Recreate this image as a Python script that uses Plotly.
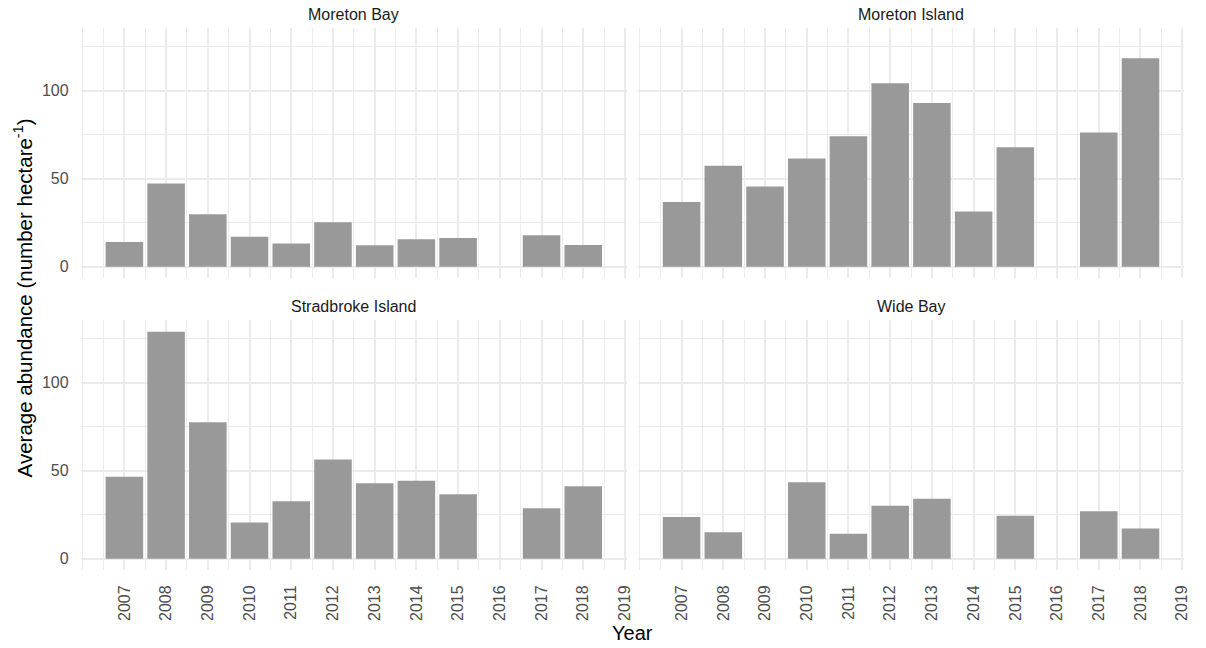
import plotly.graph_objects as go

# Survey years and average abundance per region (number per hectare)
years = [2007, 2008, 2009, 2010, 2011, 2012, 2013, 2014, 2015, 2016, 2017, 2018]
tick_years = list(range(2007, 2020))

moreton_bay = [14.0, 47.2, 29.8, 17.0, 13.1, 25.2, 12.2, 15.6, 16.3, None, 17.8, 12.3]
moreton_island = [36.8, 57.4, 45.5, 61.4, 74.1, 104.2, 93.0, 31.3, 67.8, None, 76.3, 118.4]
stradbroke_island = [46.6, 129.0, 77.5, 20.6, 32.6, 56.3, 42.8, 44.3, 36.6, None, 28.6, 41.1]
wide_bay = [23.7, 15.0, None, 43.4, 14.2, 30.1, 34.1, None, 24.4, None, 26.9, 17.2]

regions = ["Moreton Bay", "Moreton Island", "Stradbroke Island", "Wide Bay"]
series = [moreton_bay, moreton_island, stradbroke_island, wide_bay]

W, H = 1206, 648
BAR_COLOR = "#999999"
GRID = "#EBEBEB"
FONT = "Liberation Sans, Arial, sans-serif"

# panel placement in pixels: (left, right, top, bottom)
col_px = [(81.2, 630.0), (641.2, 1190.0)]
row_px = [(28.3, 278.0), (320.3, 570.0)]

# continuous scale limits with 5% expansion, bars of width 0.9
bar_w = 0.9
x_lo, x_hi = years[0] - bar_w / 2, years[-1] + bar_w / 2
x_pad = (x_hi - x_lo) * 0.05
x_range = [x_lo - x_pad, x_hi + x_pad]
y_max = max(v for s in series for v in s if v is not None)
y_range = [-0.05 * y_max, 1.05 * y_max]

fig = go.Figure()
layout = {}
for i, (name, vals) in enumerate(zip(regions, series)):
    r, c = divmod(i, 2)
    n = "" if i == 0 else str(i + 1)
    fig.add_trace(go.Bar(
        x=[y for y, v in zip(years, vals) if v is not None],
        y=[v for v in vals if v is not None],
        width=bar_w,
        marker=dict(color=BAR_COLOR, line=dict(width=0)),
        xaxis="x" + n, yaxis="y" + n,
        showlegend=False, name=name,
    ))
    l, rr = col_px[c]
    t, b = row_px[r]
    layout["xaxis" + n] = dict(
        domain=[l / W, rr / W], range=x_range, anchor="y" + n,
        tickmode="array", tickvals=tick_years,
        ticktext=[str(y) for y in tick_years],
        showticklabels=(r == 1), tickangle=-90,
        ticks="outside", ticklen=8, tickcolor="rgba(0,0,0,0)",
        tickfont=dict(family=FONT, size=16, color="#4D4D4D"),
        showgrid=True, gridcolor=GRID, gridwidth=1.5,
        minor=dict(tickmode="linear", tick0=2006, dtick=0.5, showgrid=True,
                   gridcolor=GRID, gridwidth=1.1, ticks=""),
        zeroline=False, showline=False, fixedrange=True,
    )
    layout["yaxis" + n] = dict(
        domain=[1 - b / H, 1 - t / H], range=y_range, anchor="x" + n,
        tickmode="linear", tick0=0, dtick=50,
        showticklabels=(c == 0),
        ticks="outside", ticklen=8, tickcolor="rgba(0,0,0,0)",
        tickfont=dict(family=FONT, size=16, color="#4D4D4D"),
        showgrid=True, gridcolor=GRID, gridwidth=1.5,
        minor=dict(tickmode="linear", tick0=0, dtick=25, showgrid=True,
                   gridcolor=GRID, gridwidth=1.1, ticks=""),
        zeroline=False, showline=False, fixedrange=True,
    )

# facet strip labels
annotations = []
for i, name in enumerate(regions):
    r, c = divmod(i, 2)
    l, rr = col_px[c]
    t, b = row_px[r]
    annotations.append(dict(
        text=name, x=(l + rr) / 2 / W, y=1 - (t - 13.5) / H,
        xref="paper", yref="paper", xanchor="center", yanchor="middle",
        showarrow=False, font=dict(family=FONT, size=16, color="#1A1A1A"),
    ))

# axis titles
annotations.append(dict(
    text="Year", x=(col_px[0][0] + col_px[1][1]) / 2 / W, y=1 - 633 / H,
    xref="paper", yref="paper", xanchor="center", yanchor="middle",
    showarrow=False, font=dict(family=FONT, size=20, color="#000000"),
))
annotations.append(dict(
    text="Average abundance (number hectare<sup>-1</sup>)",
    x=23 / W, y=1 - 297.5 / H, textangle=-90,
    xref="paper", yref="paper", xanchor="center", yanchor="middle",
    showarrow=False, font=dict(family=FONT, size=20.5, color="#000000"),
))

fig.update_layout(
    width=W, height=H,
    margin=dict(l=0, r=0, t=0, b=0),
    paper_bgcolor="white", plot_bgcolor="white",
    annotations=annotations,
    **layout,
)

fig.write_html("out.html")
